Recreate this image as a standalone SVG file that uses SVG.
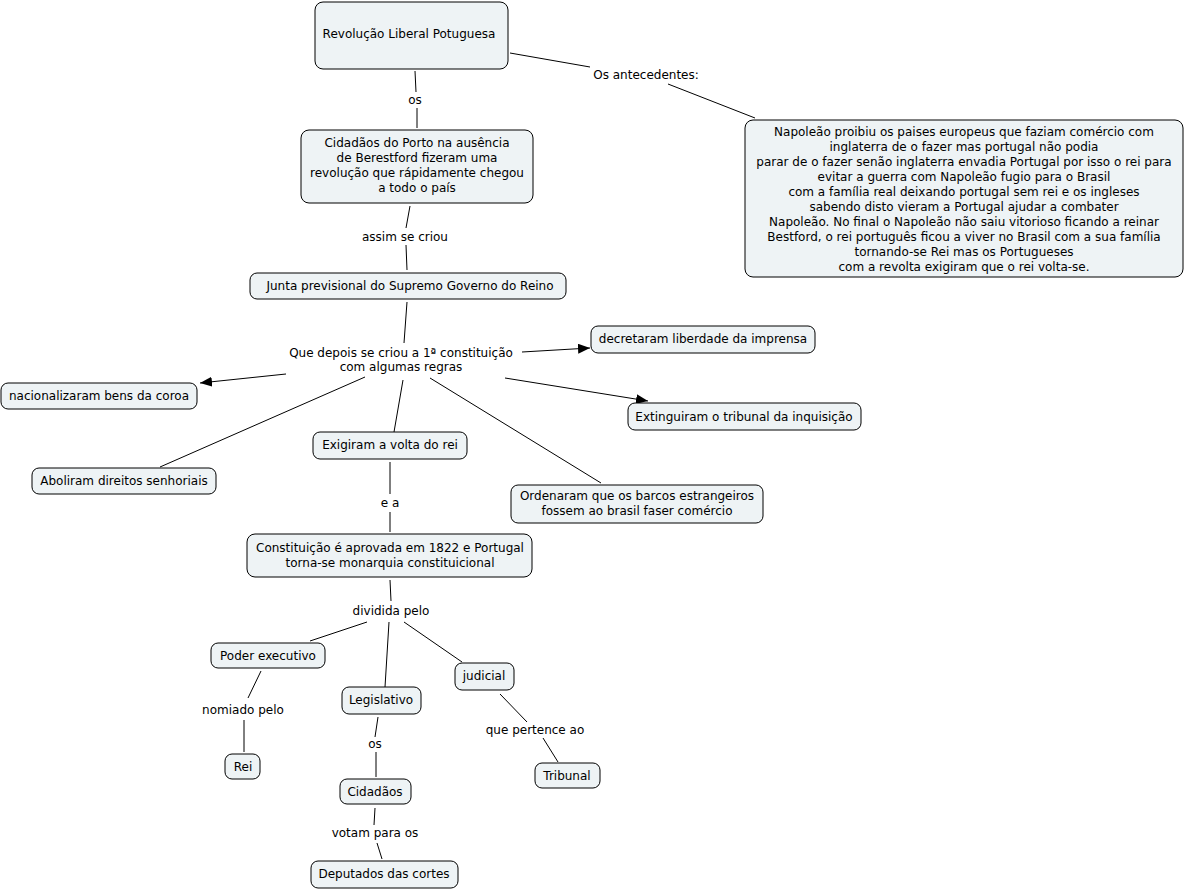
<svg xmlns="http://www.w3.org/2000/svg" width="1185" height="891" viewBox="0 0 1185 891">
<defs>
<style>
.n rect{fill:#eef3f5;stroke:#000;stroke-width:1}
text{font-family:"DejaVu Sans",Verdana,sans-serif;font-size:12px;fill:#000;text-anchor:middle}
.c line{stroke:#000;stroke-width:1}
</style>
<marker id="a" viewBox="0 0 12 10" refX="12" refY="5" markerWidth="12" markerHeight="10" markerUnits="userSpaceOnUse" orient="auto">
<path d="M0,0 L12,5 L0,10 Z" fill="#000"/>
</marker>
</defs>
<rect width="1185" height="891" fill="#fff"/>
<g class="c">
<line x1="415" y1="71" x2="416" y2="92"/><line x1="417" y1="108" x2="417" y2="128"/>
<line x1="510" y1="53" x2="590" y2="67"/><line x1="668" y1="84" x2="755" y2="118"/>
<line x1="410" y1="206" x2="406" y2="228"/><line x1="406" y1="245" x2="407" y2="270"/>
<line x1="407" y1="302" x2="404" y2="343"/>
<line x1="522" y1="352" x2="590" y2="348" marker-end="url(#a)"/>
<line x1="286" y1="374" x2="200" y2="383" marker-end="url(#a)"/>
<line x1="505" y1="378" x2="648" y2="401" marker-end="url(#a)"/>
<line x1="365" y1="377" x2="160" y2="467"/>
<line x1="403" y1="380" x2="394" y2="432"/>
<line x1="430" y1="378" x2="601" y2="483"/>
<line x1="390" y1="462" x2="390" y2="494"/><line x1="390" y1="512" x2="390" y2="532"/>
<line x1="390" y1="580" x2="391" y2="601"/>
<line x1="367" y1="622" x2="310" y2="641"/>
<line x1="389" y1="622" x2="385" y2="687"/>
<line x1="404" y1="622" x2="462" y2="662"/>
<line x1="261" y1="671" x2="248" y2="698"/><line x1="244" y1="720" x2="244" y2="752"/>
<line x1="378" y1="717" x2="375" y2="737"/><line x1="376" y1="752" x2="376" y2="777"/>
<line x1="500" y1="694" x2="527" y2="722"/><line x1="543" y1="738" x2="558" y2="762"/>
<line x1="375" y1="808" x2="374" y2="825"/><line x1="377" y1="843" x2="382" y2="859"/>
<text x="415" y="104">os</text>
<text x="646" y="79">Os antecedentes:</text>
<text x="405" y="241">assim se criou</text>
<text x="401" y="357">Que depois se criou a 1ª constituição</text>
<text x="401" y="371">com algumas regras</text>
<text x="390" y="507">e a</text>
<text x="391" y="615">dividida pelo</text>
<text x="243" y="714">nomiado pelo</text>
<text x="375" y="748">os</text>
<text x="535" y="734">que pertence ao</text>
<text x="375" y="837">votam para os</text>
</g>
<g class="n" id="n1"><rect x="315" y="2" width="193" height="67" rx="8"/><text x="409" y="38">Revolução Liberal Potuguesa</text></g>
<g class="n" id="n2"><rect x="301" y="130" width="232" height="73" rx="8"/>
<text x="417" y="147">Cidadãos do Porto na ausência</text>
<text x="417" y="162">de Berestford fizeram uma</text>
<text x="417" y="177">revolução que rápidamente chegou</text>
<text x="417" y="192">a todo o país</text></g>
<g class="n" id="n3"><rect x="745" y="120" width="438" height="157" rx="8"/>
<text x="964" y="136">Napoleão proibiu os paises europeus que faziam comércio com</text>
<text x="964" y="151">inglaterra de o fazer mas portugal não podia</text>
<text x="964" y="166">parar de o fazer senão inglaterra envadia Portugal por isso o rei para</text>
<text x="964" y="181">evitar a guerra com Napoleão fugio para o Brasil</text>
<text x="964" y="196">com a família real deixando portugal sem rei e os ingleses</text>
<text x="964" y="211">sabendo disto vieram a Portugal ajudar a combater</text>
<text x="964" y="226">Napoleão. No final o Napoleão não saiu vitorioso ficando a reinar</text>
<text x="964" y="241">Bestford, o rei português ficou a viver no Brasil com a sua família</text>
<text x="964" y="256">tornando-se Rei mas os Portugueses</text>
<text x="964" y="271">com a revolta exigiram que o rei volta-se.</text></g>
<g class="n" id="n4"><rect x="250" y="273" width="316" height="26" rx="7"/><text x="410" y="290"> Junta previsional do Supremo Governo do Reino</text></g>
<g class="n" id="n5"><rect x="591" y="326" width="224" height="27" rx="7"/><text x="703" y="343">decretaram liberdade da imprensa</text></g>
<g class="n" id="n6"><rect x="1" y="383" width="196" height="26" rx="7"/><text x="99" y="400">nacionalizaram bens da coroa</text></g>
<g class="n" id="n7"><rect x="628" y="403" width="233" height="27" rx="7"/><text x="744" y="421">Extinguiram o tribunal da inquisição</text></g>
<g class="n" id="n8"><rect x="313" y="432" width="154" height="27" rx="7"/><text x="390" y="449">Exigiram a volta do rei</text></g>
<g class="n" id="n9"><rect x="32" y="468" width="184" height="26" rx="7"/><text x="124" y="485">Aboliram direitos senhoriais</text></g>
<g class="n" id="n10"><rect x="511" y="485" width="252" height="38" rx="7"/>
<text x="637" y="500">Ordenaram que os barcos estrangeiros</text>
<text x="637" y="515">fossem ao brasil faser comércio</text></g>
<g class="n" id="n11"><rect x="247" y="534" width="285" height="43" rx="8"/>
<text x="390" y="552">Constituição é aprovada em 1822 e Portugal</text>
<text x="390" y="567">torna-se monarquia constituicional</text></g>
<g class="n" id="n12"><rect x="211" y="643" width="114" height="25" rx="7"/><text x="268" y="660">Poder executivo</text></g>
<g class="n" id="n13"><rect x="455" y="663" width="59" height="27" rx="7"/><text x="484" y="680">judicial</text></g>
<g class="n" id="n14"><rect x="342" y="687" width="79" height="27" rx="7"/><text x="381" y="704">Legislativo</text></g>
<g class="n" id="n15"><rect x="225" y="754" width="35" height="25" rx="7"/><text x="243" y="771">Rei</text></g>
<g class="n" id="n16"><rect x="535" y="763" width="65" height="25" rx="7"/><text x="567" y="780">Tribunal</text></g>
<g class="n" id="n17"><rect x="340" y="779" width="71" height="25" rx="7"/><text x="375" y="796">Cidadãos</text></g>
<g class="n" id="n18"><rect x="311" y="861" width="147" height="27" rx="7"/><text x="384" y="878">Deputados das cortes</text></g>
</svg>
